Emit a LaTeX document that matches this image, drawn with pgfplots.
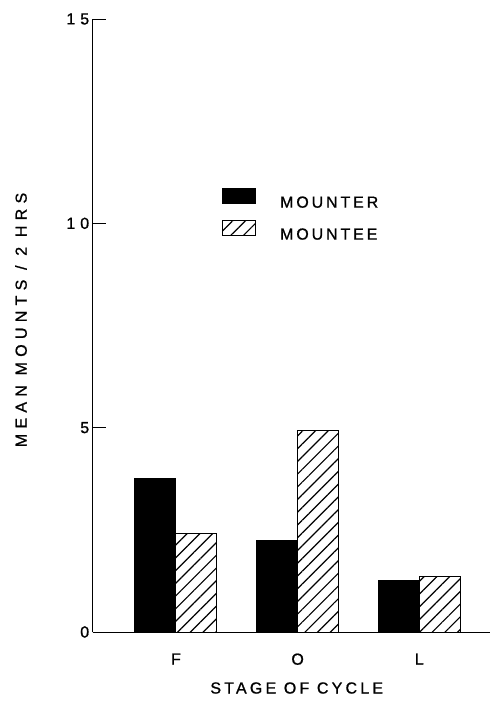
\documentclass[border=0pt]{standalone}
\usepackage{fontspec}
\usepackage{pgfplots}
\pgfplotsset{compat=1.18}
\usetikzlibrary{patterns.meta}
\newfontfamily\lab[LetterSpace=18, FakeBold=1]{Liberation Sans}
\newfontfamily\xlab[LetterSpace=20, FakeBold=1]{Liberation Sans}
\newfontfamily\ylab[LetterSpace=33, FakeBold=1]{Liberation Sans}
\begin{document}
\begin{tikzpicture}
\begin{axis}[
  name=ax,
  scale only axis,
  width=397.3pt, height=613pt,
  xmin=-0.684, xmax=2.581,
  ymin=0, ymax=15,
  axis x line*=bottom, axis y line*=left,
  axis line style={-, line width=0.9pt},
  xtick={0,1,2}, xticklabels={F,O,L},
  xtick style={draw=none},
  ytick={0,5,10,15}, yticklabels={0,5,1\hspace{5pt}0,1\hspace{5pt}5},
  tick align=inside,
  major tick length=13pt,
  ytick style={line width=0.9pt, black},
  tick label style={font=\fontsize{16}{18}\selectfont\lab},
  xticklabel style={yshift=-5pt},
  ybar, bar width=41pt,
  xlabel={STAGE OF CYCLE},
  ylabel={MEAN MOUNTS / 2 HRS},
  xlabel style={font=\fontsize{16}{18}\selectfont\xlab, at={(axis description cs:0.5135,-0.0914)}, anchor=center},
  ylabel style={font=\fontsize{16}{18}\selectfont\ylab, at={(axis description cs:-0.1805,0.509)}, anchor=center},
  legend style={at={(rel axis cs:0.3255,0.7243)}, anchor=north west, draw=none, fill=none, inner sep=0pt, row sep=9pt,
    font=\fontsize{16}{18}\selectfont\lab, nodes={anchor=base west},
    /tikz/every odd column/.append style={column sep=22pt}},
  legend image code/.code={\draw[#1, line width=0.9pt] (0pt,4pt) rectangle (33pt,19pt);},
  legend cell align=left,
]
\addplot[fill=black, draw=black, line width=0.9pt, bar shift=-20.5pt] coordinates {(0,3.76) (1,2.23) (2,1.27)};
\addlegendentry{MOUNTER}
\addplot[fill=white, draw=black, line width=0.9pt, bar shift=20.5pt,
  postaction={pattern={Lines[angle=45, distance=9pt, line width=1.2pt]}, pattern color=black}] coordinates {(0,2.42) (1,4.92) (2,1.37)};
\addlegendentry{MOUNTEE}
\end{axis}
\pgfresetboundingbox
\path[use as bounding box] ([shift={(-92.7pt,-76pt)}]ax.south west) rectangle ([shift={(4pt,19pt)}]ax.north east);
\end{tikzpicture}
\end{document}
